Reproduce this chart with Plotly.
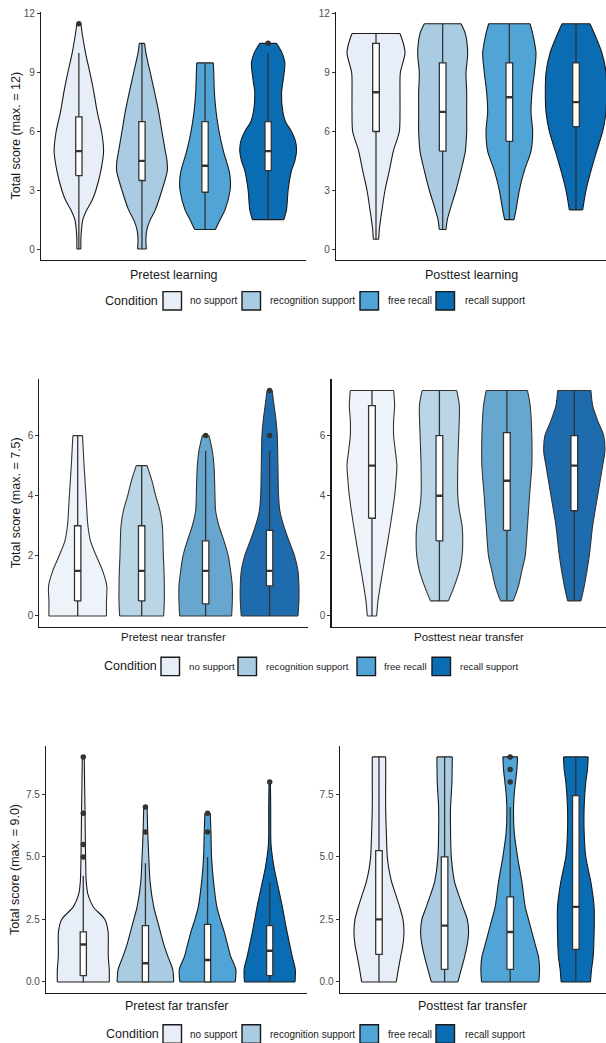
import plotly.graph_objects as go

W, H = 606, 1043

conditions = ["no support", "recognition support", "free recall", "recall support"]
colors_main = ["#E8EEF7", "#A9CCE2", "#50A5D6", "#0A6CB3"]
colors_near = ["#EEF3FA", "#B9D5E6", "#67A7CF", "#1E6BAD"]

panel_titles = ["Pretest learning", "Posttest learning",
                "Pretest near transfer", "Posttest near transfer",
                "Pretest far transfer", "Posttest far transfer"]
y_titles = ["Total score (max. = 12)", "Total score (max. = 7.5)", "Total score (max. = 9.0)"]
legend_title = "Condition"

ticks_learn = [0, 3, 6, 9, 12]
ticks_learn_text = ["0", "3", "6", "9", "12"]
ticks_near = [0, 2, 4, 6]
ticks_near_text = ["0", "2", "4", "6"]
ticks_far = [0, 2.5, 5, 7.5]
ticks_far_text = ["0.0", "2.5", "5.0", "7.5"]

# ---------- violin profiles: score levels and half-widths (density) ----------
pre_learn_y = [
    [0, 0.5, 1, 1.5, 2, 2.5, 3, 4, 5, 6, 7, 8, 9, 10, 11, 11.5],
    [0, 0.5, 1, 1.5, 2, 3, 4, 4.5, 5, 6, 7, 8, 9, 10, 10.5],
    [1, 1.5, 2, 3, 3.5, 4, 5, 6, 7, 8, 9, 9.5],
    [1.5, 2, 3, 4, 4.5, 5, 5.5, 6, 6.5, 7, 8, 8.5, 9, 9.5, 10, 10.5],
]
pre_learn_w = [
    [0.032, 0.032, 0.042, 0.063, 0.127, 0.212, 0.27, 0.349, 0.392, 0.36, 0.291, 0.238, 0.175, 0.106, 0.053, 0.032],
    [0.069, 0.063, 0.079, 0.132, 0.212, 0.317, 0.402, 0.397, 0.37, 0.317, 0.265, 0.201, 0.132, 0.063, 0.042],
    [0.164, 0.238, 0.317, 0.397, 0.402, 0.381, 0.291, 0.222, 0.175, 0.148, 0.138, 0.132],
    [0.249, 0.291, 0.317, 0.37, 0.423, 0.45, 0.434, 0.37, 0.275, 0.233, 0.212, 0.233, 0.254, 0.265, 0.222, 0.132],
]
post_learn_y = [
    [0.5, 1, 2, 3, 4, 5, 6, 7, 8, 9, 10, 10.5, 11],
    [1, 1.5, 2, 3, 4, 5, 6, 7, 8, 9, 10, 11, 11.5],
    [1.5, 2, 3, 4, 5, 6, 7, 8, 9, 10, 11, 11.5],
    [2, 3, 4, 5, 6, 7, 8, 9, 10, 11, 11.5],
]
post_learn_w = [
    [0.04, 0.05, 0.09, 0.135, 0.2, 0.26, 0.35, 0.36, 0.36, 0.365, 0.435, 0.41, 0.36],
    [0.05, 0.07, 0.11, 0.2, 0.275, 0.34, 0.36, 0.36, 0.36, 0.35, 0.375, 0.34, 0.275],
    [0.07, 0.1, 0.15, 0.225, 0.325, 0.35, 0.325, 0.34, 0.375, 0.4, 0.35, 0.31],
    [0.1, 0.15, 0.225, 0.31, 0.4, 0.45, 0.46, 0.45, 0.39, 0.275, 0.21],
]
pre_near_y = [
    [0, 0.5, 1, 1.5, 2, 2.5, 3, 4, 5, 6],
    [0, 0.5, 1, 1.5, 2, 2.5, 3, 3.5, 4, 4.5, 5],
    [0, 0.5, 1, 1.5, 2, 2.5, 3, 3.5, 4, 4.5, 5, 5.5, 6],
    [0, 0.5, 1, 1.5, 2, 2.5, 3, 3.5, 4, 5, 6, 6.5, 7, 7.5],
]
pre_near_w = [
    [0.45, 0.45, 0.455, 0.39, 0.29, 0.2, 0.16, 0.13, 0.1, 0.075],
    [0.344, 0.354, 0.354, 0.349, 0.339, 0.333, 0.323, 0.286, 0.219, 0.16, 0.085],
    [0.406, 0.417, 0.417, 0.39, 0.354, 0.286, 0.208, 0.156, 0.146, 0.14, 0.13, 0.104, 0.052],
    [0.443, 0.458, 0.458, 0.443, 0.39, 0.302, 0.22, 0.16, 0.14, 0.13, 0.12, 0.1, 0.07, 0.04],
]
post_near_y = [
    [0, 0.5, 1, 2, 3, 4, 4.5, 5, 5.5, 6, 6.5, 7, 7.5],
    [0.5, 1, 1.5, 2, 2.5, 3, 3.5, 4, 5, 6, 7, 7.5],
    [0.5, 1, 1.5, 2, 3, 4, 5, 6, 7, 7.5],
    [0.5, 1, 2, 3, 4, 5, 5.5, 6, 6.5, 7, 7.5],
]
post_near_w = [
    [0.069, 0.089, 0.123, 0.198, 0.272, 0.336, 0.356, 0.37, 0.346, 0.321, 0.321, 0.336, 0.321],
    [0.133, 0.222, 0.296, 0.336, 0.346, 0.336, 0.296, 0.272, 0.272, 0.286, 0.296, 0.257],
    [0.094, 0.173, 0.222, 0.272, 0.306, 0.336, 0.37, 0.37, 0.346, 0.306],
    [0.099, 0.148, 0.222, 0.272, 0.346, 0.42, 0.454, 0.435, 0.346, 0.272, 0.247],
]
pre_far_y = [
    [0, 0.5, 1, 1.5, 2, 2.5, 3, 3.5, 4, 5, 6, 7, 8, 9],
    [0, 0.5, 1, 1.5, 2, 2.5, 3, 4, 5, 6, 7],
    [0, 0.5, 1, 1.5, 2, 2.5, 3, 4, 5, 6, 6.75],
    [0, 0.5, 1, 1.5, 2, 2.5, 3, 3.5, 4, 4.5, 5, 5.5, 6, 7, 8],
]
pre_far_w = [
    [0.418, 0.418, 0.402, 0.402, 0.4, 0.348, 0.161, 0.075, 0.048, 0.037, 0.032, 0.027, 0.021, 0.016],
    [0.455, 0.439, 0.364, 0.295, 0.241, 0.187, 0.134, 0.075, 0.054, 0.037, 0.027],
    [0.445, 0.455, 0.375, 0.321, 0.268, 0.204, 0.15, 0.096, 0.064, 0.054, 0.043],
    [0.407, 0.412, 0.364, 0.321, 0.279, 0.241, 0.204, 0.161, 0.118, 0.075, 0.043, 0.021, 0.016, 0.016, 0.011],
]
post_far_y = [
    [0, 0.5, 1, 1.5, 2, 2.5, 3, 3.5, 4, 4.5, 5, 6, 7, 8, 9],
    [0, 0.5, 1, 1.5, 2, 2.5, 3, 3.5, 4, 5, 6, 7, 7.5, 8, 9],
    [0, 0.5, 1, 1.5, 2, 2.5, 3, 4, 5, 6, 7, 7.5, 8, 8.5, 9],
    [0, 0.5, 1, 2, 3, 4, 5, 6, 7, 8, 8.5, 9],
]
post_far_w = [
    [0.264, 0.295, 0.33, 0.366, 0.381, 0.366, 0.315, 0.254, 0.193, 0.152, 0.127, 0.112, 0.102, 0.102, 0.102],
    [0.203, 0.254, 0.305, 0.346, 0.366, 0.346, 0.279, 0.213, 0.152, 0.102, 0.091, 0.091, 0.102, 0.112, 0.117],
    [0.437, 0.447, 0.432, 0.381, 0.33, 0.279, 0.229, 0.178, 0.112, 0.061, 0.051, 0.061, 0.081, 0.102, 0.112],
    [0.224, 0.239, 0.264, 0.279, 0.279, 0.229, 0.152, 0.127, 0.127, 0.152, 0.178, 0.188],
]

# ---------- box statistics ----------
pre_learn_q1 = [3.75, 3.5, 2.9, 4.0]
pre_learn_med = [5.0, 4.5, 4.25, 5.0]
pre_learn_q3 = [6.75, 6.5, 6.5, 6.5]
pre_learn_lo = [0, 0, 1, 1.5]
pre_learn_hi = [10, 10.5, 9.5, 10]
pre_learn_out = [[11.5], [], [], [10.5]]

post_learn_q1 = [6.0, 5.0, 5.5, 6.25]
post_learn_med = [8.0, 7.0, 7.75, 7.5]
post_learn_q3 = [10.5, 9.5, 9.5, 9.5]
post_learn_lo = [0.5, 1, 1.5, 2]
post_learn_hi = [11, 11.5, 11.5, 11.5]
post_learn_out = [[], [], [], []]

pre_near_q1 = [0.5, 0.5, 0.4, 1.0]
pre_near_med = [1.5, 1.5, 1.5, 1.5]
pre_near_q3 = [3.0, 3.0, 2.5, 2.85]
pre_near_lo = [0, 0, 0, 0]
pre_near_hi = [6, 5, 5.5, 5.5]
pre_near_out = [[], [], [6], [6, 7.5]]

post_near_q1 = [3.25, 2.5, 2.85, 3.5]
post_near_med = [5.0, 4.0, 4.5, 5.0]
post_near_q3 = [7.0, 6.0, 6.1, 6.0]
post_near_lo = [0, 0.5, 0.5, 0.5]
post_near_hi = [7.5, 7.5, 7.5, 7.5]
post_near_out = [[], [], [], []]

pre_far_q1 = [0.25, 0, 0, 0.25]
pre_far_med = [1.5, 0.75, 0.875, 1.25]
pre_far_q3 = [2.0, 2.25, 2.3, 2.25]
pre_far_lo = [0, 0, 0, 0]
pre_far_hi = [4.25, 4.75, 5.0, 4.0]
pre_far_out = [[5, 5.5, 6.75, 9], [6, 7], [6, 6.75], [8]]

post_far_q1 = [1.1, 0.5, 0.5, 1.3]
post_far_med = [2.5, 2.25, 2.0, 3.0]
post_far_q3 = [5.25, 5.0, 3.4, 7.45]
post_far_lo = [0, 0, 0, 0]
post_far_hi = [9, 9, 7.0, 9]
post_far_out = [[], [], [8, 8.5, 9], []]

# ---------- layout geometry (pixels) ----------
# (x0, x1, y_top, y_bottom, x_range, y_range)
geom = [
    (41, 306, 8.5, 257.3, [0.4, 4.6], [-0.575, 12.075]),
    (336, 606, 8.5, 257.3, [0.4, 4.45], [-0.575, 12.075]),
    (39.3, 308, 376.7, 625.6, [0.4, 4.6], [-0.375, 7.875]),
    (331.5, 606, 376.7, 625.6, [0.4, 4.47], [-0.375, 7.875]),
    (46, 307, 744.5, 993, [0.4, 4.6], [-0.45, 9.45]),
    (339.6, 606, 744.5, 993, [0.4, 4.46], [-0.45, 9.45]),
]

panels = [
    (pre_learn_y, pre_learn_w, pre_learn_q1, pre_learn_med, pre_learn_q3, pre_learn_lo, pre_learn_hi, pre_learn_out),
    (post_learn_y, post_learn_w, post_learn_q1, post_learn_med, post_learn_q3, post_learn_lo, post_learn_hi, post_learn_out),
    (pre_near_y, pre_near_w, pre_near_q1, pre_near_med, pre_near_q3, pre_near_lo, pre_near_hi, pre_near_out),
    (post_near_y, post_near_w, post_near_q1, post_near_med, post_near_q3, post_near_lo, post_near_hi, post_near_out),
    (pre_far_y, pre_far_w, pre_far_q1, pre_far_med, pre_far_q3, pre_far_lo, pre_far_hi, pre_far_out),
    (post_far_y, post_far_w, post_far_q1, post_far_med, post_far_q3, post_far_lo, post_far_hi, post_far_out),
]
row_ticks = [(ticks_learn, ticks_learn_text), (ticks_near, ticks_near_text), (ticks_far, ticks_far_text)]

fig = go.Figure()
BOX_W = 0.1
box_line = "#333333"
positions = [1, 2, 3, 4]

for k, (ys_list, ws_list, q1, med, q3, lo, hi, outs) in enumerate(panels):
    row = k // 2
    xa = "x" if k == 0 else f"x{k+1}"
    ya = "y" if k == 0 else f"y{k+1}"
    pal = colors_near if row == 1 else colors_main
    outline = "#333333" if row == 1 else "#1a1a1a"
    common = dict(xaxis=xa, yaxis=ya, showlegend=False, hoverinfo="skip")
    for j in range(4):
        pos = positions[j]
        ys = ys_list[j]
        ws = ws_list[j]
        lw = dict(color=outline, width=1.1, shape="spline", smoothing=0.8)
        # left edge of the violin
        fig.add_trace(go.Scatter(x=[pos - w for w in ws], y=ys, mode="lines", line=lw, **common))
        # right edge, filled back to the left edge
        fig.add_trace(go.Scatter(x=[pos + w for w in ws], y=ys, mode="lines", line=lw,
                                 fill="tonextx", fillcolor=pal[j], **common))
        # flat bottom and top edges
        fig.add_trace(go.Scatter(
            x=[pos - ws[0], pos + ws[0], None, pos - ws[-1], pos + ws[-1]],
            y=[ys[0], ys[0], None, ys[-1], ys[-1]],
            mode="lines", line=dict(color=outline, width=1.1), **common))
    # whiskers
    wx, wy = [], []
    for p, a, b, c, d in zip(positions, lo, q1, q3, hi):
        wx += [p, p, None, p, p, None]
        wy += [a, b, None, c, d, None]
    fig.add_trace(go.Scatter(x=wx, y=wy, mode="lines", line=dict(color=box_line, width=1.3), **common))
    # boxes
    bx, by = [], []
    for p, b, c in zip(positions, q1, q3):
        bx += [p - BOX_W / 2, p + BOX_W / 2, p + BOX_W / 2, p - BOX_W / 2, p - BOX_W / 2, None]
        by += [b, b, c, c, b, None]
    fig.add_trace(go.Scatter(x=bx, y=by, mode="lines", fill="toself", fillcolor="white",
                             line=dict(color=box_line, width=1.3), **common))
    # medians
    mx, my = [], []
    for p, m in zip(positions, med):
        mx += [p - BOX_W / 2, p + BOX_W / 2, None]
        my += [m, m, None]
    fig.add_trace(go.Scatter(x=mx, y=my, mode="lines", line=dict(color=box_line, width=2.4), **common))
    # outliers
    ox, oy = [], []
    for p, o in zip(positions, outs):
        ox += [p] * len(o)
        oy += o
    if ox:
        fig.add_trace(go.Scatter(x=ox, y=oy, mode="markers",
                                 marker=dict(color="#333333", size=5.5), **common))

layout = dict(
    width=W, height=H, autosize=False, margin=dict(l=0, r=0, t=0, b=0, pad=0),
    paper_bgcolor="white", plot_bgcolor="white",
    font=dict(family="Liberation Sans, Arial, sans-serif", color="#1a1a1a"),
    showlegend=False,
)
for k, (x0, x1, yt, yb, xr, yr) in enumerate(geom):
    row = k // 2
    tv, tt = row_ticks[row]
    xk = "xaxis" if k == 0 else f"xaxis{k+1}"
    yk = "yaxis" if k == 0 else f"yaxis{k+1}"
    ya = "y" if k == 0 else f"y{k+1}"
    xa = "x" if k == 0 else f"x{k+1}"
    layout[xk] = dict(domain=[x0 / W, x1 / W], range=xr, anchor=ya,
                      showline=True, linecolor="#1a1a1a", linewidth=1.1,
                      showticklabels=False, ticks="", showgrid=False, zeroline=False,
                      fixedrange=True)
    layout[yk] = dict(domain=[1 - yb / H, 1 - yt / H], range=yr, anchor=xa,
                      showline=True, linecolor="#1a1a1a", linewidth=1.1,
                      tickvals=tv, ticktext=tt, ticks="outside", ticklen=3,
                      tickcolor="#333333", tickwidth=1,
                      tickfont=dict(size=10, color="#4D4D4D"),
                      showgrid=False, zeroline=False, fixedrange=True)

annotations = []
shapes = []
xtitle_y = [272, 272, 635, 635, 1005.5, 1005.5]
xtitle_size = [12.5, 12.5, 11.5, 11.5, 12.5, 12.5]
for k, (x0, x1, yt, yb, xr, yr) in enumerate(geom):
    annotations.append(dict(text=panel_titles[k], xref="paper", yref="paper",
                            x=(x0 + x1) / 2 / W, y=1 - xtitle_y[k] / H,
                            xanchor="center", yanchor="middle", showarrow=False,
                            font=dict(size=xtitle_size[k], color="#1a1a1a")))
ytitle_x = [16, 16, 15.5]
for r in range(3):
    x0, x1, yt, yb, xr, yr = geom[2 * r]
    annotations.append(dict(text=y_titles[r], xref="paper", yref="paper",
                            x=ytitle_x[r] / W, y=1 - (yt + yb) / 2 / H,
                            xanchor="center", yanchor="middle", textangle=-90,
                            showarrow=False, font=dict(size=12.5, color="#1a1a1a")))

# legends (one under each row), drawn as keys + labels
legend_cy = [298, 665, 1034]
legend_title_x = [102.5, 102, 104]
legend_key_x = [[163, 242, 360, 436], [161, 238, 357, 432], [163, 242, 360, 436]]
legend_text_x = [[188, 268, 386, 463], [186.5, 264, 382, 458], [188, 268, 386, 463]]
legend_font = [10, 9.7, 10]
KEY = 18.5
for r in range(3):
    cy = legend_cy[r]
    annotations.append(dict(text=legend_title, xref="paper", yref="paper",
                            x=legend_title_x[r] / W, y=1 - cy / H, xanchor="left", yanchor="middle",
                            showarrow=False, font=dict(size=12.5, color="#1a1a1a")))
    for j, name in enumerate(conditions):
        kx = legend_key_x[r][j]
        shapes.append(dict(type="rect", xref="paper", yref="paper",
                           x0=kx / W, x1=(kx + KEY) / W,
                           y0=1 - (cy + KEY / 2) / H, y1=1 - (cy - KEY / 2) / H,
                           fillcolor=colors_main[j], line=dict(color="#1a1a1a", width=1.4)))
        annotations.append(dict(text=name, xref="paper", yref="paper",
                                x=legend_text_x[r][j] / W, y=1 - cy / H,
                                xanchor="left", yanchor="middle", showarrow=False,
                                font=dict(size=legend_font[r], color="#1a1a1a")))

layout["annotations"] = annotations
layout["shapes"] = shapes

fig.update_layout(**layout)
fig.write_html("out.html",
               config={"displayModeBar": False, "staticPlot": True},
               post_script="document.body.style.margin='0';document.body.style.overflow='hidden';")
